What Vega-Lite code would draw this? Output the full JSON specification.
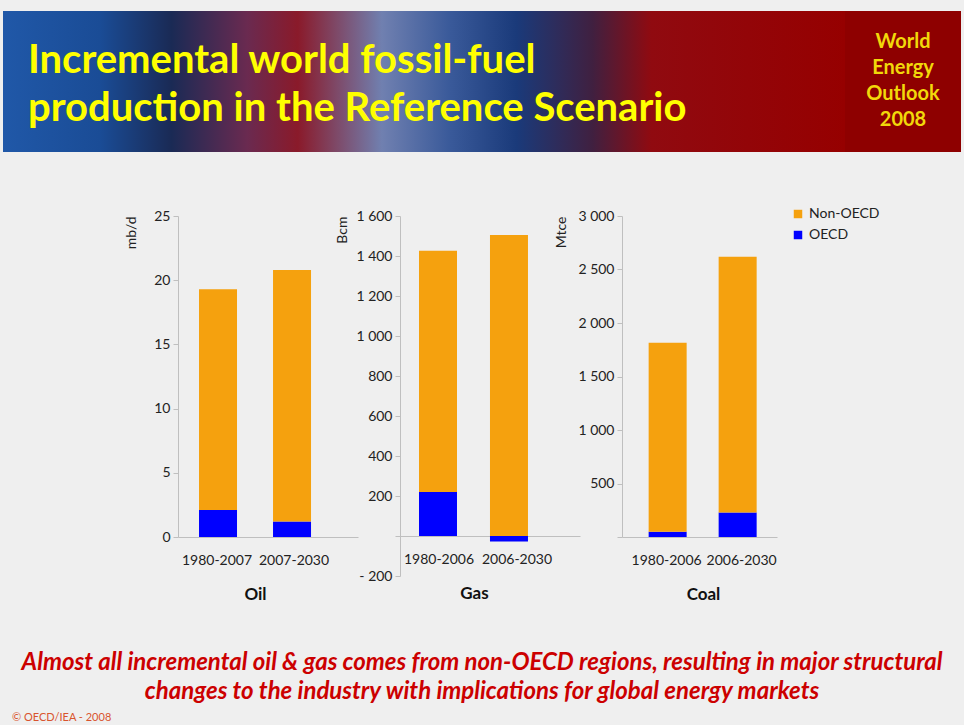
{
  "$schema": "https://vega.github.io/schema/vega-lite/v6.json",
  "background": "#efefef",
  "padding": {"left": 3, "top": 11, "right": 3, "bottom": 2},
  "config": {
    "view": {"stroke": null},
    "font": "Lato",
    "axis": {"labelFont": "Lato", "titleFont": "Lato"},
    "legend": {"labelFont": "Lato"},
    "title": {"font": "Lato"}
  },
  "datasets": {
    "prod": [
      {"fuel": "Oil", "period": "1980-2007", "region": "OECD", "value": 2.1},
      {"fuel": "Oil", "period": "1980-2007", "region": "Non-OECD", "value": 17.2},
      {"fuel": "Oil", "period": "2007-2030", "region": "OECD", "value": 1.2},
      {"fuel": "Oil", "period": "2007-2030", "region": "Non-OECD", "value": 19.6},
      {"fuel": "Gas", "period": "1980-2006", "region": "OECD", "value": 220},
      {"fuel": "Gas", "period": "1980-2006", "region": "Non-OECD", "value": 1206},
      {"fuel": "Gas", "period": "2006-2030", "region": "OECD", "value": -28},
      {"fuel": "Gas", "period": "2006-2030", "region": "Non-OECD", "value": 1505},
      {"fuel": "Coal", "period": "1980-2006", "region": "OECD", "value": 50},
      {"fuel": "Coal", "period": "1980-2006", "region": "Non-OECD", "value": 1765},
      {"fuel": "Coal", "period": "2006-2030", "region": "OECD", "value": 230},
      {"fuel": "Coal", "period": "2006-2030", "region": "Non-OECD", "value": 2390}
    ]
  },
  "title": {"text": "© OECD/IEA - 2008", "orient": "bottom", "anchor": "start", "fontSize": 11, "fontWeight": "normal", "color": "#d9542e", "offset": 8, "dx": 9},
  "spacing": 47,
  "vconcat": [
    {
      "spacing": 0,
      "hconcat": [
        {
          "width": 842, "height": 141,
          "view": {"fill": {"gradient": "linear", "x1": 0, "x2": 1, "y1": 0, "y2": 0, "stops": [
            {"offset": 0, "color": "#2058a8"},
            {"offset": 0.115, "color": "#1a4c96"},
            {"offset": 0.2, "color": "#1a2a55"},
            {"offset": 0.29, "color": "#6a2a50"},
            {"offset": 0.35, "color": "#8a1a2a"},
            {"offset": 0.45, "color": "#7080b0"},
            {"offset": 0.53, "color": "#3a5a9a"},
            {"offset": 0.61, "color": "#1a3a7a"},
            {"offset": 0.7, "color": "#402040"},
            {"offset": 0.77, "color": "#900a10"},
            {"offset": 1, "color": "#960000"}
          ]}},
          "data": {"values": []},
          "mark": "text",
          "title": {
            "text": ["Incremental world fossil-fuel", "production in the Reference Scenario"],
            "orient": "top", "anchor": "start", "frame": "group",
            "offset": -118, "dx": 25,
            "fontSize": 40, "fontWeight": "bold", "color": "#ffff00", "lineHeight": 48
          }
        },
        {
          "width": 116, "height": 141,
          "view": {"fill": "#8e0000"},
          "data": {"values": [{"t": "World\nEnergy\nOutlook\n2008"}]},
          "mark": {"type": "text", "fontSize": 20, "fontWeight": "bold", "color": "#f2d80a", "lineHeight": 26, "lineBreak": "\n", "dy": -40},
          "encoding": {"text": {"field": "t", "type": "nominal"}}
        }
      ]
    },
    {
      "spacing": 42,
      "bounds": "flush",
      "resolve": {"scale": {"x": "independent", "y": "independent", "color": "independent"}, "legend": {"color": "independent"}},
      "hconcat": [
        {"width": 133, "height": 10, "data": {"values": []}, "mark": "point"},
        {
          "width": 180, "height": 321,
          "data": {"name": "prod"},
          "transform": [{"filter": "datum.fuel == 'Oil'"}],
          "mark": {"type": "bar", "width": 38},
          "encoding": {
            "x": {"field": "period", "type": "nominal", "sort": null,
              "scale": {"paddingInner": 0, "paddingOuter": 0.216, "align": 0.094},
              "axis": {"title": "Oil", "titleX": 77, "labelAngle": 0, "labelFontSize": 14, "labelColor": "#222", "ticks": false, "tickSize": 0, "domainColor": "#bfbfbf", "labelPadding": 16, "titlePadding": 19, "titleFontSize": 17, "titleFontWeight": "bold", "titleColor": "#111",
                "labelOffset": {"condition": {"test": "datum.label == '2007-2030'", "value": 2}, "value": -1}}},
            "y": {"field": "value", "type": "quantitative", "stack": "zero",
              "scale": {"domain": [0, 25], "nice": false},
              "axis": {"title": "mb/d", "values": [0, 5, 10, 15, 20, 25], "grid": false, "labelFontSize": 14, "labelColor": "#222", "tickSize": 5, "tickColor": "#bfbfbf", "domainColor": "#bfbfbf", "labelPadding": 3, "titleAnchor": "end", "titleFontSize": 14, "titleFontWeight": "normal", "titleColor": "#222", "titlePadding": 15}},
            "color": {"field": "region", "type": "nominal", "scale": {"domain": ["Non-OECD", "OECD"], "range": ["#f5a10e", "#0000ff"]}, "legend": null},
            "order": {"field": "region", "sort": "descending"}
          }
        },
        {
          "width": 180, "height": 360,
          "data": {"name": "prod"},
          "transform": [{"filter": "datum.fuel == 'Gas'"}],
          "mark": {"type": "bar", "width": 38},
          "encoding": {
            "x": {"field": "period", "type": "nominal", "sort": null,
              "scale": {"paddingInner": 0, "paddingOuter": 0.268, "align": 0.066},
              "axis": {"title": "Gas", "titleX": 74, "offset": -40, "labelAngle": 0, "labelFontSize": 14, "labelColor": "#222", "ticks": false, "tickSize": 0, "domainColor": "#bfbfbf", "labelPadding": 16, "titlePadding": 19, "titleFontSize": 17, "titleFontWeight": "bold", "titleColor": "#111",
                "labelOffset": {"condition": {"test": "datum.label == '2006-2030'", "value": 8}, "value": 1}}},
            "y": {"field": "value", "type": "quantitative", "stack": "zero",
              "scale": {"domain": [-200, 1600], "nice": false},
              "axis": {"title": "Bcm", "values": [-200, 0, 200, 400, 600, 800, 1000, 1200, 1400, 1600], "labelExpr": "datum.value == 0 ? '' : (datum.value < 0 ? '- ' : '') + replace(format(abs(datum.value), ','), ',', ' ')", "grid": false, "labelFontSize": 14, "labelColor": "#222", "tickSize": 5, "tickColor": "#bfbfbf", "domainColor": "#bfbfbf", "labelPadding": 3, "titleAnchor": "end", "titleFontSize": 14, "titleFontWeight": "normal", "titleColor": "#222", "titlePadding": 6}},
            "color": {"field": "region", "type": "nominal", "scale": {"domain": ["Non-OECD", "OECD"], "range": ["#f5a10e", "#0000ff"]}, "legend": null},
            "order": {"field": "region", "sort": "descending"}
          }
        },
        {
          "width": 155, "height": 321,
          "data": {"name": "prod"},
          "transform": [{"filter": "datum.fuel == 'Coal'"}],
          "mark": {"type": "bar", "width": 38},
          "encoding": {
            "x": {"field": "period", "type": "nominal", "sort": null,
              "scale": {"paddingInner": 0, "paddingOuter": 0.107, "align": 0.71},
              "axis": {"title": "Coal", "titleX": 81, "labelAngle": 0, "labelFontSize": 14, "labelColor": "#222", "ticks": false, "tickSize": 0, "domainColor": "#bfbfbf", "labelPadding": 16, "titlePadding": 19, "titleFontSize": 17, "titleFontWeight": "bold", "titleColor": "#111",
                "labelOffset": {"condition": {"test": "datum.label == '2006-2030'", "value": 4}, "value": -1}}},
            "y": {"field": "value", "type": "quantitative", "stack": "zero",
              "scale": {"domain": [0, 3000], "nice": false},
              "axis": {"title": "Mtce", "values": [0, 500, 1000, 1500, 2000, 2500, 3000], "labelExpr": "datum.value == 0 ? '' : replace(format(datum.value, ','), ',', ' ')", "grid": false, "labelFontSize": 14, "labelColor": "#222", "tickSize": 5, "tickColor": "#bfbfbf", "domainColor": "#bfbfbf", "labelPadding": 3, "titleAnchor": "end", "titleFontSize": 14, "titleFontWeight": "normal", "titleColor": "#222", "titlePadding": 9}},
            "color": {"field": "region", "type": "nominal", "scale": {"domain": ["Non-OECD", "OECD"], "range": ["#f5a10e", "#0000ff"]},
              "legend": {"orient": "none", "legendX": 161, "legendY": -17, "padding": 8, "title": null, "symbolType": "square", "symbolSize": 72, "symbolStrokeWidth": 0, "labelFontSize": 14, "labelColor": "#222", "rowPadding": 7, "labelOffset": 4}},
            "order": {"field": "region", "sort": "descending"}
          }
        }
      ]
    },
    {
      "width": 958, "height": 2,
      "data": {"values": [{"t": "Almost all incremental oil & gas comes from non-OECD regions, resulting in major structural\nchanges to the industry with implications for global energy markets"}]},
      "mark": {"type": "text", "fontSize": 24, "fontWeight": "bold", "fontStyle": "italic", "color": "#cc0000", "lineHeight": 29, "lineBreak": "\n", "baseline": "top", "dy": 1},
      "encoding": {"text": {"field": "t", "type": "nominal"}}
    }
  ]
}
